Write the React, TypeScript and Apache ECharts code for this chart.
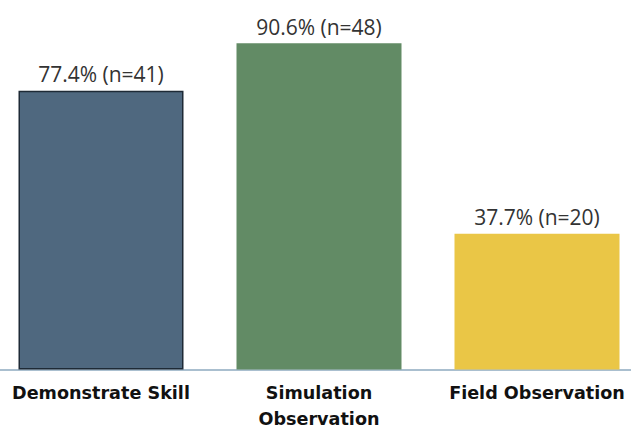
import React, { useEffect, useRef } from "react";
import * as echarts from "echarts";

const categories = ["Demonstrate Skill", "Simulation\nObservation", "Field Observation"];
const percents = [77.4, 90.6, 37.7];
const counts = [41, 48, 20];
const barColors = ["#4f687f", "#628b65", "#eac646"];

export default function App() {
  const ref = useRef<HTMLDivElement>(null);
  useEffect(() => {
    if (!ref.current) return;
    const chart = echarts.init(ref.current, undefined, { renderer: "svg" });
    chart.setOption({
      animation: false,
      backgroundColor: "#ffffff",
      grid: {
        left: 0,
        right: 0,
        top: 9.5,
        bottom: 58.5,
        containLabel: false,
        outerBoundsMode: "none",
      },
      xAxis: {
        type: "category",
        data: categories,
        axisLine: { show: true, lineStyle: { color: "#8eaabf", width: 1.6 } },
        axisTick: { show: false },
        axisLabel: {
          interval: 0,
          margin: 10,
          fontFamily: "DejaVu Sans",
          fontWeight: "bold",
          fontSize: 17.6,
          lineHeight: 26,
          color: "#111111",
        },
      },
      yAxis: {
        type: "value",
        min: 0,
        max: 100,
        show: false,
        splitLine: { show: false },
      },
      series: [
        {
          type: "bar",
          barWidth: 165,
          data: percents.map((v, i) => ({
            value: v,
            itemStyle: {
              color: barColors[i],
              borderColor: i === 0 ? "#1e2a36" : barColors[i],
              borderWidth: i === 0 ? 1.5 : 0,
            },
          })),
          label: {
            show: true,
            position: "top",
            distance: 6,
            fontFamily: "Open Sans",
            fontSize: 21,
            color: "#333333",
            formatter: (p: any) => `${percents[p.dataIndex].toFixed(1)}% (n=${counts[p.dataIndex]})`,
          },
        },
      ],
    });
    return () => chart.dispose();
  }, []);
  return (
    <div
      ref={ref}
      style={{ position: "fixed", left: -8, top: 0, width: 654, height: 428, background: "#fff" }}
    />
  );
}
